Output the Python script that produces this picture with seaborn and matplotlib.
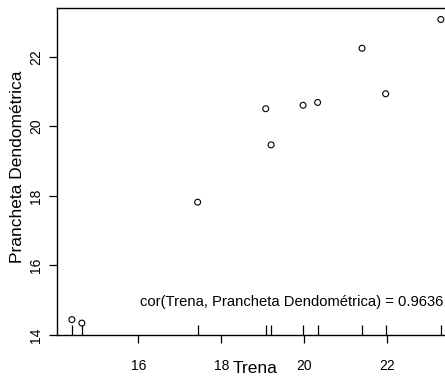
import matplotlib
matplotlib.use("Agg")
import matplotlib.pyplot as plt
import seaborn as sns
import pandas as pd

# values
trena = [14.40, 14.64, 17.43, 19.07, 19.20, 19.97, 20.32, 21.39, 21.96, 23.29]
prancheta = [14.44, 14.34, 17.82, 20.51, 19.47, 20.61, 20.69, 22.25, 20.94, 23.08]
x_ticks = [16, 18, 20, 22]
y_ticks = [14, 16, 18, 20, 22]
cor_label = "cor(Trena, Prancheta Dendométrica) = 0.9636"

df = pd.DataFrame({"Trena": trena, "Prancheta": prancheta})

sns.set_style("ticks")
plt.rcParams["font.family"] = ["Liberation Sans", "DejaVu Sans"]
plt.rcParams["text.color"] = "black"
plt.rcParams["axes.labelcolor"] = "black"
plt.rcParams["xtick.color"] = "black"
plt.rcParams["ytick.color"] = "black"

fig = plt.figure(figsize=(4.45, 3.78), dpi=100)
ax = fig.add_axes([0.128, 0.114, 0.872, 0.864])

sns.scatterplot(data=df, x="Trena", y="Prancheta", ax=ax, s=18,
                facecolors="none", edgecolor="black", linewidth=0.8)
sns.rugplot(data=df, x="Trena", ax=ax, height=0.03, color="black",
            linewidth=0.9, expand_margins=False)

ax.set_xlim(14.04, 23.39)
ax.set_ylim(14.0, 23.4)
ax.set_xticks(x_ticks)
ax.set_yticks(y_ticks)
ax.tick_params(axis="x", length=6, width=0.9, pad=11, labelsize=10)
ax.tick_params(axis="y", length=6, width=0.9, pad=4, labelsize=10)
for lab in ax.get_yticklabels():
    lab.set_rotation(90)
    lab.set_va("center")

for side in ["left", "bottom", "top"]:
    ax.spines[side].set_color("black")
    ax.spines[side].set_linewidth(1.0)
ax.spines["right"].set_visible(False)

ax.set_xlabel("Trena", fontsize=12.5)
ax.xaxis.set_label_coords(0.51, -0.08)
ax.set_ylabel("Prancheta Dendométrica", fontsize=12.5)
ax.yaxis.set_label_coords(-0.082, 0.515)

ax.text(0.997, 0.10, cor_label, transform=ax.transAxes, ha="right",
        va="center", fontsize=10.6)

fig.savefig("out.png", dpi=100)
